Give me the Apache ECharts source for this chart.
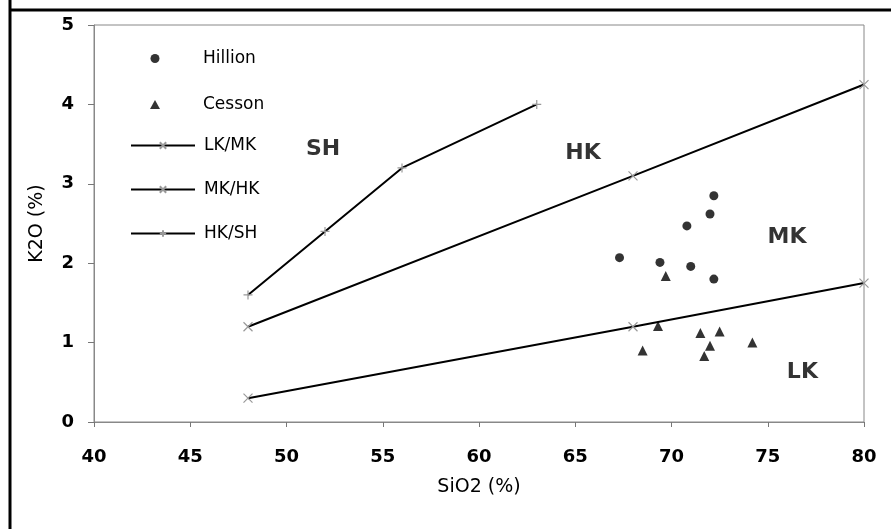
<!DOCTYPE html>
<html>
<head>
<meta charset="utf-8">
<script src="https://cdn.jsdelivr.net/npm/echarts@6/dist/echarts.min.js"></script>
<style>html,body{margin:0;padding:0;background:#fff;}#chart{width:891px;height:529px;}</style>
</head>
<body>
<div id="chart"></div>
<script>
// ---- data ----
var hillionSiO2 = [72.2, 72.0, 70.8, 67.3, 69.4, 71.0, 72.2];
var hillionK2O  = [2.85, 2.62, 2.47, 2.07, 2.01, 1.96, 1.80];
var cessonSiO2  = [69.7, 69.3, 71.5, 72.5, 72.0, 71.7, 68.5, 74.2];
var cessonK2O   = [1.84, 1.21, 1.12, 1.14, 0.96, 0.83, 0.90, 1.00];
var lkmkSiO2 = [48, 68, 80];
var lkmkK2O  = [0.3, 1.2, 1.75];
var mkhkSiO2 = [48, 68, 80];
var mkhkK2O  = [1.2, 3.1, 4.25];
var hkshSiO2 = [48, 52, 56, 63];
var hkshK2O  = [1.6, 2.4, 3.2, 4.0];
var regionNames = ['SH', 'HK', 'MK', 'LK'];
var regionSiO2  = [51.9, 65.4, 76.0, 76.8];
var regionK2O   = [3.44, 3.38, 2.33, 0.63];
var xTicks = [40, 45, 50, 55, 60, 65, 70, 75, 80];
var yTicks = [0, 1, 2, 3, 4, 5];

function pairs(xs, ys) { return xs.map(function (x, i) { return [x, ys[i]]; }); }

var crossSym = 'path://M0,0L10,10M10,0L0,10';
var plusSym = 'path://M5,0L5,10M0,5L10,5';
var fontTxt = 'DejaVu Sans';

var chart = echarts.init(document.getElementById('chart'), null, {renderer: 'canvas'});
var lineSeries = function (name, xs, ys, sym) {
  return {
    name: name, type: 'line', data: pairs(xs, ys),
    symbol: sym, symbolSize: 9, showSymbol: true,
    lineStyle: {color: '#000', width: 2},
    itemStyle: {color: '#999', borderColor: '#999', borderWidth: 1.2},
    emphasis: {disabled: true}, animation: false, z: 2
  };
};

chart.setOption({
  animation: false,
  backgroundColor: '#fff',
  graphic: [
    {type: 'line', shape: {x1: 10, y1: 0, x2: 10, y2: 529}, style: {stroke: '#000', lineWidth: 3}},
    {type: 'line', shape: {x1: 9, y1: 10, x2: 891, y2: 10}, style: {stroke: '#000', lineWidth: 3}}
  ],
  grid: {left: 94, right: 27, top: 25, bottom: 107, show: true, borderColor: '#888', borderWidth: 1, containLabel: false},
  legend: [
    {
      data: ['Hillion', 'Cesson'], orient: 'vertical', left: 150, top: 50, padding: 0,
      itemWidth: 10, itemHeight: 9, itemGap: 29, selectedMode: false,
      textStyle: {fontFamily: fontTxt, fontSize: 17, color: '#000', padding: [0, 0, 0, 38]}
    },
    {
      data: ['LK/MK', 'MK/HK', 'HK/SH'], orient: 'vertical', left: 130, top: 137, padding: 0,
      itemWidth: 64, itemHeight: 8, itemGap: 27, selectedMode: false,
      textStyle: {fontFamily: fontTxt, fontSize: 17, color: '#000', padding: [0, 0, 0, 4]}
    }
  ],
  xAxis: {
    type: 'value', min: 40, max: 80, interval: 5,
    name: 'SiO2 (%)', nameLocation: 'middle', nameGap: 56,
    nameTextStyle: {fontFamily: fontTxt, fontSize: 19, color: '#000'},
    axisLine: {show: true, lineStyle: {color: '#888', width: 1}},
    axisTick: {show: true, inside: false, length: 5, lineStyle: {color: '#777'}},
    axisLabel: {fontFamily: fontTxt, fontSize: 18, fontWeight: 'bold', color: '#000', margin: 26,
      customValues: xTicks},
    splitLine: {show: false}
  },
  yAxis: {
    type: 'value', min: 0, max: 5, interval: 1,
    name: 'K2O (%)', nameLocation: 'middle', nameGap: 47,
    nameTextStyle: {fontFamily: fontTxt, fontSize: 19, color: '#000'},
    axisLine: {show: true, lineStyle: {color: '#888', width: 1}},
    axisTick: {show: true, inside: false, length: 6, lineStyle: {color: '#777'}},
    axisLabel: {fontFamily: fontTxt, fontSize: 18, fontWeight: 'bold', color: '#000', margin: 20,
      customValues: yTicks},
    splitLine: {show: false}
  },
  series: [
    {
      name: 'Hillion', type: 'scatter', data: pairs(hillionSiO2, hillionK2O),
      symbol: 'circle', symbolSize: 9, itemStyle: {color: '#000'}, z: 3
    },
    {
      name: 'Cesson', type: 'scatter', data: pairs(cessonSiO2, cessonK2O),
      symbol: 'triangle', symbolSize: 10, symbolKeepAspect: true, itemStyle: {color: '#000'}, z: 3
    },
    lineSeries('LK/MK', lkmkSiO2, lkmkK2O, crossSym),
    lineSeries('MK/HK', mkhkSiO2, mkhkK2O, crossSym),
    lineSeries('HK/SH', hkshSiO2, hkshK2O, plusSym),
    {
      name: 'regions', type: 'scatter', silent: true,
      data: regionNames.map(function (n, i) { return {name: n, value: [regionSiO2[i], regionK2O[i]]}; }),
      symbol: 'circle', symbolSize: 1, itemStyle: {color: 'transparent'},
      label: {show: true, position: 'inside', formatter: '{b}', fontFamily: fontTxt, fontSize: 22,
        fontWeight: 'bold', color: '#000', textBorderWidth: 0}
    }
  ]
});
</script>
</body>
</html>
